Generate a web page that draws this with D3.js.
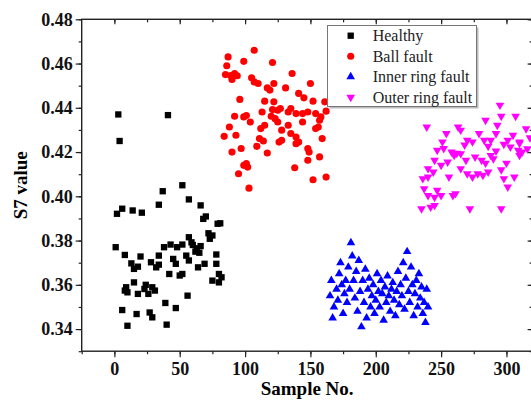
<!DOCTYPE html>
<html>
<head>
<meta charset="utf-8">
<script src="https://cdn.jsdelivr.net/npm/d3@7"></script>
<style>
  body { margin: 0; background: #fff; }
  svg { display: block; }
</style>
</head>
<body>
<div id="chart"></div>
<script>
// 1. DATA  ([sample no., S7 value])
const healthy = [
  [3,0.437],[41,0.4367],[4,0.425],[52,0.405],[37,0.4023],[57,0.3986],[34,0.3962],[66,0.3959],
  [6,0.3944],[2,0.3921],[14,0.3936],[21,0.3926],[70,0.3909],[68,0.3898],[79,0.3876],[81,0.3878],
  [72,0.3833],[75,0.3823],[73,0.3808],[57,0.3815],[59,0.3792],
  [43,0.3782],[52,0.3782],[48,0.377],[38,0.377],
  [60,0.378],[63,0.3765],[65,0.3745],[62,0.375],[66,0.3775],
  [1,0.377],[8,0.3735],[20,0.3728],
  [13,0.3697],[15,0.3672],[18,0.3682],
  [28,0.3702],[34,0.3691],[32,0.3679],[34,0.3732],
  [45,0.3717],[47,0.3695],[55,0.3732],[57,0.371],
  [78,0.3737],[78,0.3695],
  [42,0.3649],[50,0.3642],[52,0.3649],
  [64,0.3679],[69,0.3695],
  [80,0.3649],[82,0.3634],[75,0.3619],[80,0.3611],
  [15,0.3611],
  [9,0.3589],[10,0.3566],[8,0.3574],
  [18,0.3559],[23,0.3581],[26,0.3559],[29,0.3589],[31,0.3574],[24,0.360],
  [56,0.3551],[39,0.3518],[47,0.3495],[6,0.3486],[17,0.3468],[27,0.3475],[29,0.3453],[10,0.3415],[40,0.342]
];

const ballFault = [
  [107,0.466],[87,0.463],[99,0.461],[121,0.4605],[86,0.459],
  [85,0.455],[89,0.4546],[92,0.4555],[94,0.4545],[90,0.4528],
  [105,0.4536],[107,0.4517],[110,0.451],
  [122,0.451],[117,0.449],[119,0.448],
  [96,0.4438],[115,0.443],[122,0.4427],
  [113,0.4381],[121,0.4392],[125,0.4389],
  [92,0.4362],[99,0.4359],[101,0.4365],[104,0.4336],
  [120,0.4362],[123,0.4351],[125,0.4336],
  [88,0.4313],[115,0.4321],[112,0.4306],
  [84,0.4271],[93,0.4276],
  [111,0.4261],[114,0.425],[126,0.4245],
  [109,0.4226],[90,0.42],[97,0.4216],[117,0.4196],
  [101,0.4148],[102,0.4132],[99,0.414],[95,0.4102],[103,0.4037],
  [127,0.4397],[133,0.4381],[135,0.4397],[139,0.4374],[144,0.4374],[148,0.4381],[154,0.4374],
  [158,0.4359],[157,0.4344],[150,0.451],[161,0.4427],
  [133,0.4321],[144,0.4336],[154,0.4306],[156,0.4313],
  [128,0.4299],[135,0.4284],[139,0.4268],[141,0.4245],[148,0.4216],[149,0.42],
  [128,0.4253],[139,0.4238],
  [159,0.4261],[157,0.4178],[148,0.4163],[138,0.4129],[152,0.4075],[162,0.4087],
  [136,0.4555],[131,0.449],[141,0.4465],[145,0.4445],[152,0.443],[162,0.4385]
];

const innerRingFault = [
  [165,0.355],[166,0.362],[168,0.350],[170,0.358],[171,0.353],[172,0.365],[174,0.360],[175,0.347],
  [176,0.356],[177,0.362],[178,0.352],[179,0.368],[180,0.358],[181,0.379],[182,0.373],[183,0.362],
  [184,0.354],[185,0.366],[186,0.348],[187,0.371],[188,0.357],[189,0.341],[190,0.362],[191,0.352],
  [192,0.367],[193,0.345],[194,0.358],[195,0.363],[196,0.350],[197,0.355],[198,0.360],[199,0.347],
  [200,0.353],[201,0.365],[202,0.357],[203,0.350],[204,0.362],[205,0.356],[206,0.344],[207,0.359],
  [208,0.352],[209,0.364],[210,0.355],[211,0.348],[212,0.358],[213,0.361],[214,0.353],[215,0.346],
  [216,0.357],[217,0.366],[218,0.351],[219,0.360],[220,0.355],[221,0.370],[222,0.349],[223,0.363],
  [224,0.375],[225,0.357],[226,0.352],[227,0.368],[228,0.360],[229,0.346],[230,0.356],[231,0.362],
  [232,0.350],[233,0.365],[234,0.354],[235,0.359],[236,0.347],[237,0.352],[238,0.343],[239,0.358],
  [240,0.350],[173,0.370],[167,0.345]
];

const outerRingFault = [
  [295,0.4412],[307,0.4362],[296,0.4362],[284,0.4344],[293,0.4321],[239,0.4313],[263,0.4313],[265,0.4299],
  [254,0.4284],[251,0.4246],[270,0.4253],[274,0.4246],[279,0.4284],[283,0.4253],[288,0.4253],[292,0.4284],
  [301,0.4253],[305,0.4276],[310,0.4246],[303,0.4223],[309,0.4208],[312,0.42],[310,0.4185],
  [247,0.4208],[252,0.4216],[258,0.42],[260,0.4185],[265,0.4193],[269,0.4163],
  [281,0.4163],[288,0.4185],[290,0.417],
  [245,0.4163],[250,0.414],[255,0.4155],[240,0.4125],[244,0.411],
  [265,0.4125],[270,0.4102],[274,0.4087],[278,0.4102],[282,0.4095],[286,0.411],
  [256,0.4087],[236,0.408],[240,0.4087],
  [298,0.408],[301,0.4042],[306,0.4087],
  [237,0.4034],[247,0.4027],[240,0.4004],[245,0.3996],[250,0.4004],[259,0.4004],[261,0.4012],
  [235,0.3944],[242,0.3951],[245,0.3959],[272,0.3944],[296,0.3944],
  [316,0.4215],[318,0.4265],[315,0.4305],
  [262,0.4195],[276,0.4178],[284,0.415],[292,0.4205],[298,0.4235],[268,0.4232],[286,0.4226],
  [300,0.415],[310,0.424],[296,0.412]
];

const yTicks = [0.34, 0.36, 0.38, 0.40, 0.42, 0.44, 0.46, 0.48];
const xTicks = [0, 50, 100, 150, 200, 250, 300];

const series = [
  { name: "Healthy", data: healthy, color: "#000000", symbol: d3.symbolSquare, size: 40, rot: 0 },
  { name: "Ball fault", data: ballFault, color: "#ff0000", symbol: d3.symbolCircle, size: 40, rot: 0 },
  { name: "Inner ring fault", data: innerRingFault, color: "#0000ff", symbol: d3.symbolTriangle, size: 32, rot: 0 },
  { name: "Outer ring fault", data: outerRingFault, color: "#ff00ff", symbol: d3.symbolTriangle, size: 32, rot: 180 }
];

// 2. SETUP
const width = 531;
const height = 401;
const plotLeft = 81.7, plotRight = 532.6, plotTop = 19.3, plotBottom = 351.2;

const svg = d3.select("#chart")
  .append("svg")
  .attr("width", width)
  .attr("height", height);

const x = d3.scaleLinear().domain([-25, 320]).range([plotLeft, plotRight]);
const y = d3.scaleLinear().domain([0.33, 0.48]).range([plotBottom, plotTop]);

const serif = "'Liberation Serif', 'Times New Roman', serif";

// 3. AXES
function styleAxis(g) {
  g.select(".domain").remove();
  g.selectAll("line").attr("stroke", "#222").attr("stroke-width", 1.2);
}

// minor ticks
svg.append("g").attr("transform", `translate(${plotLeft},0)`)
  .call(d3.axisLeft(y).tickValues(d3.range(0.33, 0.4801, 0.01)).tickSize(3).tickFormat(""))
  .call(styleAxis);
svg.append("g").attr("transform", `translate(0,${plotBottom})`)
  .call(d3.axisBottom(x).tickValues(d3.range(-25, 321, 25)).tickSize(3).tickFormat(""))
  .call(styleAxis);
svg.append("g").attr("transform", `translate(0,${plotTop})`)
  .call(d3.axisBottom(x).tickValues(d3.range(0, 321, 25)).tickSize(3).tickFormat(""))
  .call(styleAxis);
svg.append("g").attr("transform", `translate(${plotRight},0)`)
  .call(d3.axisLeft(y).tickValues(d3.range(0.33, 0.4801, 0.01)).tickSize(3).tickFormat(""))
  .call(styleAxis);
// inner major ticks on top/right
svg.append("g").attr("transform", `translate(0,${plotTop})`)
  .call(d3.axisBottom(x).tickValues(xTicks).tickSize(5).tickFormat(""))
  .call(styleAxis);
svg.append("g").attr("transform", `translate(${plotRight},0)`)
  .call(d3.axisLeft(y).tickValues(yTicks).tickSize(5).tickFormat(""))
  .call(styleAxis);

// major ticks with labels
const yAxis = svg.append("g").attr("transform", `translate(${plotLeft},0)`)
  .call(d3.axisLeft(y).tickValues(yTicks).tickSize(6).tickPadding(3).tickFormat(d3.format(".2f")))
  .call(styleAxis);
const xAxis = svg.append("g").attr("transform", `translate(0,${plotBottom})`)
  .call(d3.axisBottom(x).tickValues(xTicks).tickSize(6).tickPadding(5).tickFormat(d3.format("d")))
  .call(styleAxis);

[yAxis, xAxis].forEach(a => a.selectAll("text")
  .style("font-family", serif).style("font-size", "18px")
  .style("font-weight", "bold").attr("fill", "#111"));

// frame
svg.append("rect")
  .attr("x", plotLeft).attr("y", plotTop)
  .attr("width", plotRight - plotLeft).attr("height", plotBottom - plotTop)
  .attr("fill", "none").attr("stroke", "#222").attr("stroke-width", 1.4);

// axis titles
svg.append("text")
  .attr("x", (plotLeft + plotRight) / 2).attr("y", 395)
  .attr("text-anchor", "middle")
  .style("font-family", serif).style("font-size", "19px").style("font-weight", "bold")
  .text("Sample No.");

svg.append("text")
  .attr("transform", `translate(27,${(plotTop + plotBottom) / 2}) rotate(-90)`)
  .attr("text-anchor", "middle")
  .style("font-family", serif).style("font-size", "19px").style("font-weight", "bold")
  .text("S7 value");

// 4. POINTS
const plot = svg.append("g");
series.forEach(s => {
  const sym = d3.symbol().type(s.symbol).size(s.size);
  plot.append("g").selectAll("path").data(s.data).join("path")
    .attr("d", sym)
    .attr("transform", d => `translate(${x(d[0])},${y(d[1])}) rotate(${s.rot})`)
    .attr("fill", s.color);
});

// 5. LEGEND
const legend = svg.append("g");
legend.append("rect")
  .attr("x", 329.5).attr("y", 27.5).attr("width", 149).attr("height", 81)
  .attr("fill", "#bbb");
legend.append("rect")
  .attr("x", 327.5).attr("y", 25.5).attr("width", 149).attr("height", 81)
  .attr("fill", "#fff").attr("stroke", "#777").attr("stroke-width", 1);

const items = legend.selectAll(".legend-item").data(series).join("g")
  .attr("class", "legend-item")
  .attr("transform", (d, i) => `translate(350.7, ${35.7 + i * 20.5})`);
items.append("path")
  .attr("d", d => d3.symbol().type(d.symbol).size(d.size)())
  .attr("transform", d => `rotate(${d.rot})`)
  .attr("fill", d => d.color);
items.append("text")
  .attr("x", 22).attr("y", 5.5)
  .style("font-family", serif).style("font-size", "16px")
  .attr("fill", "#222")
  .text(d => d.name);
</script>
</body>
</html>
